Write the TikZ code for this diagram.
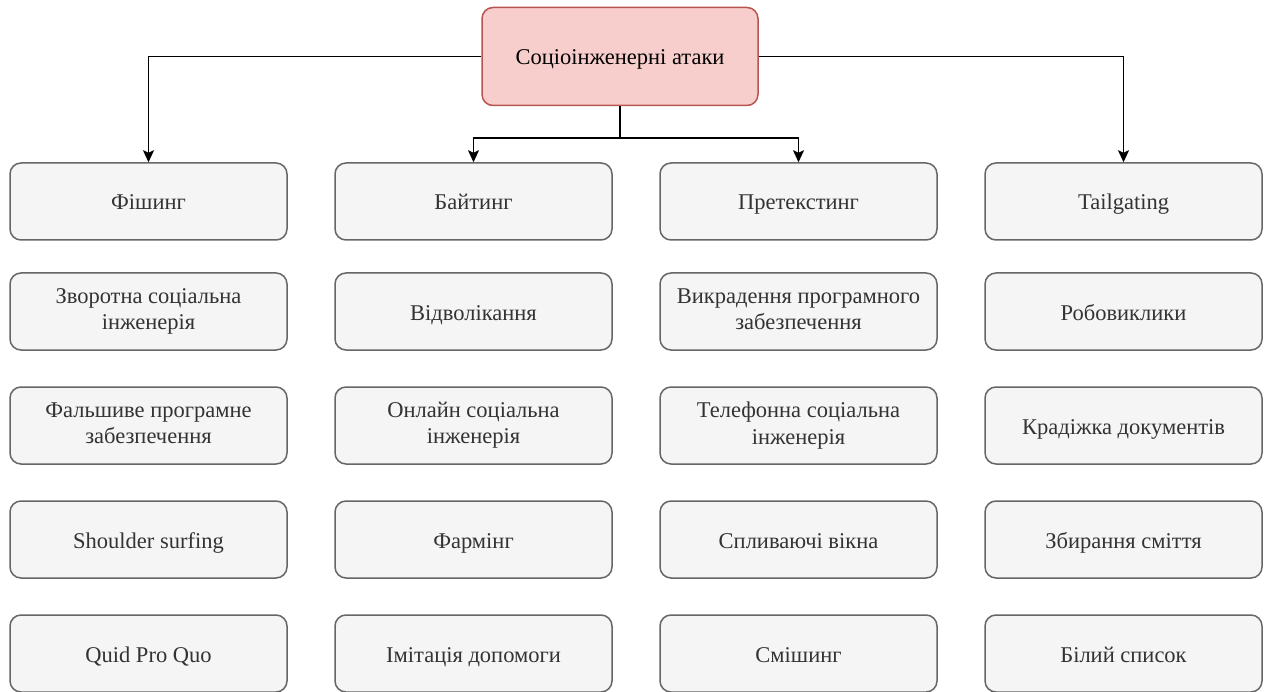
\documentclass[tikz,border=0pt]{standalone}
\usepackage{fontspec}
\setmainfont{Liberation Serif}
\usetikzlibrary{arrows.meta}
\definecolor{boxfill}{HTML}{F5F5F5}
\definecolor{boxline}{HTML}{666666}
\definecolor{boxtext}{HTML}{333333}
\definecolor{rootfill}{HTML}{F8CECC}
\definecolor{rootline}{HTML}{B85450}
% strut that centres the lowercase body of a line in its box
\newcommand{\linestrut}{\rule[-5pt]{0pt}{27pt}}
\begin{document}
\begin{tikzpicture}[x=1pt,y=-1pt,
  item/.style={draw=boxline, fill=boxfill, text=boxtext, line width=1.5pt,
    rounded corners=11pt, minimum width=277pt, minimum height=77pt,
    inner sep=0pt, align=center, font=\fontsize{22.5}{26.5}\selectfont,
    execute at begin node=\linestrut, execute at end node=\linestrut},
  root/.style={item, draw=rootline, fill=rootfill, text=black,
    minimum width=276pt, minimum height=98pt},
  link/.style={draw=black, line width=1.7pt,
    -{Stealth[length=12pt,width=11pt,inset=2.5pt]}}]
\useasboundingbox (0,0) rectangle (1265,692);

% root
\node[root] (top) at (620,56.5) {Соціоінженерні атаки};

% column 1
\node[item] (a1) at (148.5,201.5) {Фішинг};
\node[item] (a2) at (148.5,311.5) {Зворотна соціальна\\інженерія};
\node[item] (a3) at (148.5,425.5) {Фальшиве програмне\\забезпечення};
\node[item] (a4) at (148.5,539.5) {Shoulder surfing};
\node[item] (a5) at (148.5,653.5) {Quid Pro Quo};

% column 2
\node[item] (b1) at (473.5,201.5) {Байтинг};
\node[item] (b2) at (473.5,311.5) {Відволікання};
\node[item] (b3) at (473.5,425.5) {Онлайн соціальна\\інженерія};
\node[item] (b4) at (473.5,539.5) {Фармінг};
\node[item] (b5) at (473.5,653.5) {Імітація допомоги};

% column 3
\node[item] (c1) at (798.5,201.5) {Претекстинг};
\node[item] (c2) at (798.5,311.5) {Викрадення програмного\\забезпечення};
\node[item] (c3) at (798.5,425.5) {Телефонна соціальна\\інженерія};
\node[item] (c4) at (798.5,539.5) {Спливаючі вікна};
\node[item] (c5) at (798.5,653.5) {Смішинг};

% column 4
\node[item] (d1) at (1123.5,201.5) {Tailgating};
\node[item] (d2) at (1123.5,311.5) {Робовиклики};
\node[item] (d3) at (1123.5,425.5) {Крадіжка документів};
\node[item] (d4) at (1123.5,539.5) {Збирання сміття};
\node[item] (d5) at (1123.5,653.5) {Білий список};

% connectors
\coordinate (split) at (620,138);
\draw[link] (top.west) -| (a1.north);
\draw[link] (top.east) -| (d1.north);
\draw[link] (top.south) -- (split) -| (b1.north);
\draw[link] (top.south) -- (split) -| (c1.north);
\end{tikzpicture}
\end{document}
